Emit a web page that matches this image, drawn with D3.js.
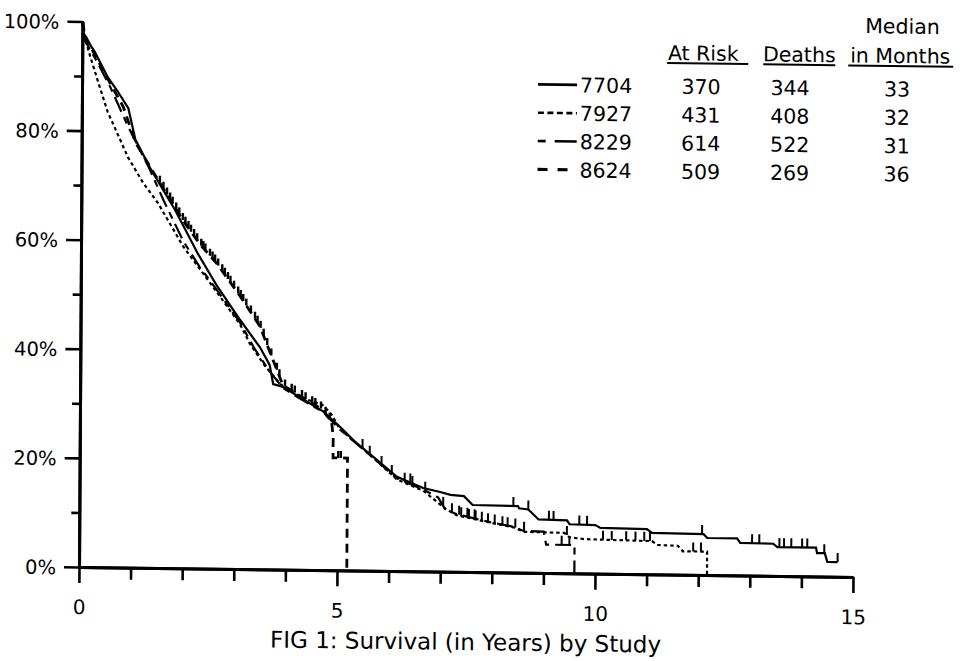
<!DOCTYPE html>
<html>
<head>
<meta charset="utf-8">
<script src="https://cdn.jsdelivr.net/npm/d3@7"></script>
<style>
  body { margin: 0; background: #fff; }
  svg { display: block; }
  text { font-family: "DejaVu Sans", sans-serif; fill: #000; }
</style>
</head>
<body>
<svg id="chart" width="962" height="661"></svg>
<script>
// ---- table data ----
const studies = ["7704", "7927", "8229", "8624"];
const atRisk = [370, 431, 614, 509];
const deaths = [344, 408, 522, 269];
const medianMonths = [33, 32, 31, 36];

const xTickValues = [0, 5, 10, 15];
const xTickLabels = ["0", "5", "10", "15"];
const yTickValues = [0, 20, 40, 60, 80, 100];
const yTickLabels = ["0%", "20%", "40%", "60%", "80%", "100%"];

// ---- Kaplan-Meier curves: [years, % surviving] ----
const surv7704 = [[0,100],[0.03,97.5],[0.24,94.5],[0.5,89.8],[0.69,87.3],[0.9,84.2],[1.04,78.5],[1.33,73.3],[1.81,65.8],[1.98,62.8],[2.26,57.8],[2.63,52],[3.09,45.7],[3.48,40.7],[3.67,37.5],[3.74,34],[3.93,33.5],[4.28,31.5],[4.71,29.1],[5.04,26.3],[5.37,23.3],[5.69,20.9],[6.15,17.3],[6.66,15.3],[6.99,14.6],[7.19,14.1],[7.45,13.9],[7.62,12.3],[8.5,12.2],[8.52,11.8],[8.7,11.6],[8.9,9.8],[9.45,9.7],[9.5,9.0],[10.0,8.9],[10.1,8.4],[11.0,8.3],[11.1,7.6],[12.1,7.5],[12.17,6.8],[12.75,6.8],[12.81,6.0],[13.45,5.9],[13.53,5.3],[14.28,5.3],[14.3,4.3],[14.45,4.3],[14.5,2.7],[14.7,2.7]];
const surv7927 = [[0,100],[0.08,96],[0.15,93.8],[0.3,89.3],[0.5,83.5],[0.9,75.2],[1.2,70.5],[1.48,67],[1.98,59],[2.63,50.8],[3.09,44.9],[3.28,41.4],[3.57,37.4],[3.88,34],[4.28,31.6],[4.7,30.3],[4.88,28.5],[5.03,26],[5.69,20.7],[6.15,16.8],[6.66,14.8],[7.1,11.5],[7.31,10.4],[7.96,9.1],[8.41,8.3],[8.62,7.5],[9.4,7.4],[9.5,6.6],[9.8,6.3],[11.1,6.1],[11.2,5.4],[11.6,5.3],[11.7,4.3],[12.17,4.3],[12.17,0]];
const surv8229 = [[0,100],[0.05,96.5],[0.3,92.5],[0.55,88],[0.9,80.8],[1.3,73.5],[1.6,67.3],[1.98,60],[2.3,55.3],[2.63,51.2],[3.09,45.2],[3.37,40.5],[3.67,36.3],[3.93,33.3],[4.28,31.3],[4.71,29],[5.03,25.9],[5.4,23],[5.69,20.7],[6.15,17],[6.66,15],[6.95,13.6],[7.1,11.3],[7.31,10.6],[7.96,9.2],[8.41,8.4],[8.6,7.7],[9.0,7.6],[9.05,5.2],[9.6,5.2],[9.6,0]];
const surv8624 = [[0,100],[0.05,97.5],[0.25,93.8],[0.5,89.5],[0.8,84.5],[1.05,77.8],[1.33,73.5],[1.81,66.2],[1.98,63.7],[2.3,59.5],[2.63,56],[3.09,50],[3.48,44.5],[3.73,38.5],[3.93,33.8],[4.28,31.8],[4.71,29.4],[4.88,27],[4.91,24.4],[4.91,20.6],[5.19,20.6],[5.19,0]];

// ---- censoring times (years) ----
const cens7704 = [5.48,6.41,8.41,8.7,9.1,9.19,9.69,9.84,12.07,13.04,13.18,13.57,13.66,13.8,14.01,14.11,14.44,14.7];
const cens7927 = [7.4,7.55,7.68,7.8,7.92,8.05,8.2,8.3,9.45,10.15,10.32,10.6,10.78,10.95,11.06,11.9,12.05];
const cens8229 = [5.62,5.85,6.05,6.3,6.45,6.7,7.05,7.22,7.36,7.52,7.66,8.45,8.62,9.35,9.5];
const cens8624 = [1.52,1.59,1.66,1.72,1.77,1.84,1.9,1.97,2.02,2.08,2.13,2.19,2.25,2.33,2.37,2.41,2.5,2.55,2.6,2.66,2.74,2.79,2.85,2.9,2.97,3.05,3.1,3.15,3.21,3.3,3.38,3.43,3.49,3.55,3.62,3.7,3.81,3.86,3.97,4.1,4.16,4.3,4.37,4.5,4.56,4.67,4.76,4.84,5.01,5.06];

// line style per study
const styles = {
  "7704": { dash: null,       width: 2.2, legendDash: null },
  "7927": { dash: "3.5,3",    width: 2.2, legendDash: "6,3.5" },
  "8229": { dash: "7,6,16,6", width: 2.2, legendDash: "8,9,22,0" },
  "8624": { dash: "9,6",      width: 2.8, legendDash: "10,10" }
};

const curves = [
  { id: "8229", surv: surv8229, cens: cens8229 },
  { id: "7927", surv: surv7927, cens: cens7927 },
  { id: "7704", surv: surv7704, cens: cens7704 },
  { id: "8624", surv: surv8624, cens: cens8624 }
];

const svg = d3.select("#chart");
// the whole figure sits on a slightly sheared frame
const root = svg.append("g").attr("transform", "matrix(1,0.0129,-0.0063,1,3.57,-1.02)");

const x = d3.scaleLinear().domain([0, 15]).range([79, 853]);
const y = d3.scaleLinear().domain([0, 100]).range([567, 21.5]);

// ---- axes ----
function styleAxis(g) {
  g.select(".domain").attr("stroke", "#000").attr("stroke-width", 3);
  g.selectAll(".tick line").attr("stroke", "#000").attr("stroke-width", 2.6);
  g.selectAll("text").attr("font-family", "DejaVu Sans, sans-serif").attr("fill", "#000");
}

const yMinor = root.append("g").attr("transform", `translate(${x(0)},0)`)
  .call(d3.axisLeft(y).tickValues([10, 30, 50, 70, 90]).tickSize(8).tickSizeOuter(0).tickFormat(""));
styleAxis(yMinor);
const yMajor = root.append("g").attr("transform", `translate(${x(0)},0)`)
  .call(d3.axisLeft(y).tickValues(yTickValues).tickSize(15).tickSizeOuter(0).tickPadding(8)
    .tickFormat((d, i) => yTickLabels[i]));
styleAxis(yMajor);
yMajor.selectAll("text").attr("font-size", 19.5).attr("dy", "0.36em");

const xMinor = root.append("g").attr("transform", `translate(0,${y(0)})`)
  .call(d3.axisBottom(x).tickValues(d3.range(1, 15).filter(v => v % 5 !== 0)).tickSize(12).tickSizeOuter(0).tickFormat(""));
styleAxis(xMinor);
const xMajor = root.append("g").attr("transform", `translate(0,${y(0)})`)
  .call(d3.axisBottom(x).tickValues(xTickValues).tickSize(16).tickSizeOuter(0).tickPadding(17)
    .tickFormat((d, i) => xTickLabels[i]));
styleAxis(xMajor);
xMajor.selectAll("text").attr("font-size", 20);

root.append("text")
  .attr("x", (x(0) + x(15)) / 2).attr("y", 645)
  .attr("text-anchor", "middle").attr("font-size", 23)
  .text("FIG 1: Survival (in Years) by Study");

// ---- survival curves ----
const line = d3.line().x(d => x(d[0])).y(d => y(d[1]));

function valueAt(surv, t) {
  const i = d3.bisector(d => d[0]).right(surv, t);
  if (i <= 0) return surv[0][1];
  if (i >= surv.length) return surv[surv.length - 1][1];
  const a = surv[i - 1], b = surv[i];
  const f = b[0] === a[0] ? 1 : (t - a[0]) / (b[0] - a[0]);
  return a[1] + (b[1] - a[1]) * f;
}

curves.forEach(c => {
  const st = styles[c.id];
  root.append("path")
    .attr("d", line(c.surv))
    .attr("fill", "none")
    .attr("stroke", "#000")
    .attr("stroke-width", st.width)
    .attr("stroke-dasharray", st.dash)
    .attr("stroke-linejoin", "miter");
  root.append("g").selectAll("line").data(c.cens).join("line")
    .attr("x1", d => x(d)).attr("x2", d => x(d))
    .attr("y1", d => y(valueAt(c.surv, d)))
    .attr("y2", d => y(valueAt(c.surv, d)) - (c.id === "8624" ? 7 : 9))
    .attr("stroke", "#000").attr("stroke-width", c.id === "8624" ? 2.4 : 2);
});

// ---- legend table ----
const leg = root.append("g");
const headers = [
  { text: "At Risk", cx: 700, u0: 664, u1: 745 },
  { text: "Deaths", cx: 796, u0: 760, u1: 832 },
  { text: "in Months", cx: 897, u0: 845, u1: 950 }
];
leg.append("text").attr("x", 899).attr("y", 23).attr("text-anchor", "middle")
  .attr("font-size", 20.5).text("Median");
headers.forEach(h => {
  leg.append("text").attr("x", h.cx).attr("y", 52.5).attr("text-anchor", "middle")
    .attr("font-size", 20.5).text(h.text);
  leg.append("line").attr("x1", h.u0).attr("x2", h.u1).attr("y1", 55.5).attr("y2", 55.5)
    .attr("stroke", "#000").attr("stroke-width", 2);
});

const rowY = d3.scalePoint().domain(studies).range([86, 171]);
studies.forEach((s, i) => {
  const by = rowY(s);
  const st = styles[s];
  leg.append("line").attr("x1", 535).attr("x2", 574).attr("y1", by - 7.5).attr("y2", by - 7.5)
    .attr("stroke", "#000").attr("stroke-width", st.width + 0.4)
    .attr("stroke-dasharray", st.legendDash);
  leg.append("text").attr("x", 577).attr("y", by).attr("font-size", 20.5).text(s);
  leg.append("text").attr("x", 698).attr("y", by).attr("text-anchor", "middle").attr("font-size", 20.5).text(atRisk[i]);
  leg.append("text").attr("x", 787).attr("y", by).attr("text-anchor", "middle").attr("font-size", 20.5).text(deaths[i]);
  leg.append("text").attr("x", 894).attr("y", by).attr("text-anchor", "middle").attr("font-size", 20.5).text(medianMonths[i]);
});
</script>
</body>
</html>
